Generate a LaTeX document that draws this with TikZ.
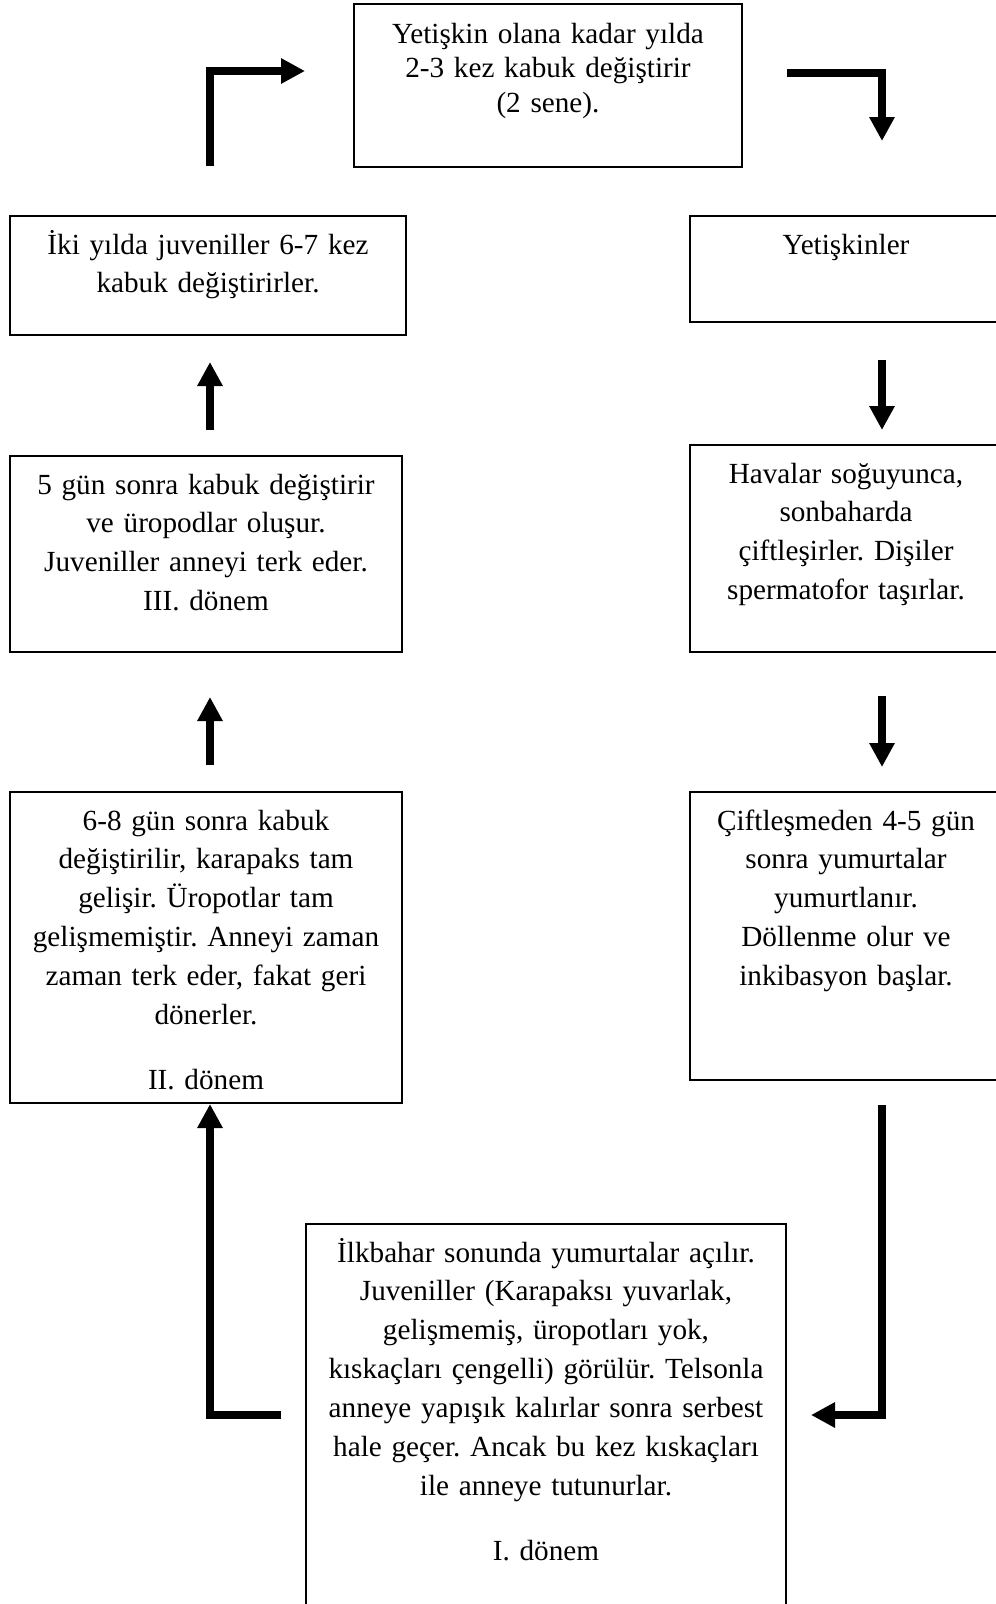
\documentclass[tikz,border=0pt]{standalone}
\usepackage{fontspec}
\setmainfont[WordSpace=0.75]{Liberation Serif}
\usetikzlibrary{arrows.meta}

\begin{document}
\begin{tikzpicture}[x=1pt,y=-1pt,
  box/.style={draw, line width=2pt, anchor=north west, align=center, inner sep=0pt,
    font=\fontsize{29.2pt}{38.9pt}\selectfont\frenchspacing, text height=38pt},
  arr/.style={line width=7.5pt, -{Triangle[length=24pt,width=24pt]}}]
  \useasboundingbox (0,0) rectangle (996,1604);
  \clip (0,0) rectangle (996,1604);

  \node[box, text width=388pt, text height=39pt, text depth=124pt,
    font=\fontsize{29.2pt}{34.5pt}\selectfont\frenchspacing] (moult) at (353,3)
    {Yetişkin olana kadar yılda\\ 2-3 kez kabuk değiştirir\\ (2 sene).}; % top
  \node[box, text width=312pt, text depth=68pt] (adult) at (689,215) {Yetişkinler};
  \node[box, text width=312pt, text depth=169pt] (mating) at (689,444)
    {Havalar soğuyunca,\\ sonbaharda\\ çiftleşirler. Dişiler\\ spermatofor taşırlar.};
  \node[box, text width=312pt, text depth=250pt] (eggs) at (689,791)
    {Çiftleşmeden 4-5 gün\\ sonra yumurtalar\\ yumurtlanır.\\ Döllenme olur ve\\ inkibasyon başlar.};
  \node[box, text width=480pt, text depth=362pt] (hatch) at (305,1223)
    {İlkbahar sonunda yumurtalar açılır.\\ Juveniller (Karapaksı yuvarlak,\\ gelişmemiş, üropotları yok,\\
     kıskaçları çengelli) görülür. Telsonla\\ anneye yapışık kalırlar sonra serbest\\
     hale geçer. Ancak bu kez kıskaçları\\ ile anneye tutunurlar.\\[26pt] I. dönem}; % bottom
  \node[box, text width=392pt, text depth=273pt] (stageII) at (9,791)
    {6-8 gün sonra kabuk\\ değiştirilir, karapaks tam\\ gelişir. Üropotlar tam\\
     gelişmemiştir. Anneyi zaman\\ zaman terk eder, fakat geri\\ dönerler.\\[26pt] II. dönem};
  \node[box, text width=392pt, text depth=158pt] (stageIII) at (9,455)
    {5 gün sonra kabuk değiştirir\\ ve üropodlar oluşur.\\ Juveniller anneyi terk eder.\\ III. dönem};
  \node[box, text width=396pt, text depth=81pt] (juv) at (9,215)
    {İki yılda juveniller 6-7 kez\\ kabuk değiştirirler.};

  \draw[arr, shorten <=49pt, shorten >=48pt] ([xshift=2pt]juv.north) |- ([yshift=14.5pt]moult.west); % up and right
  \draw[arr, shorten <=44pt, shorten >=74pt] ([yshift=12.5pt]moult.east) -| ([xshift=36pt]adult.north); % right and down
  \draw[arr, shorten <=37pt, shorten >=14pt] ([xshift=36pt]adult.south) -- ([xshift=36pt]mating.north);
  \draw[arr, shorten <=43pt, shorten >=24pt] ([xshift=36pt]mating.south) -- ([xshift=36pt]eggs.north);
  \draw[arr, shorten <=24pt, shorten >=24pt] ([xshift=36pt]eggs.south) |- ([yshift=-192pt]hatch.north east);
  \draw[arr, shorten <=24pt] ([yshift=-192pt]hatch.north west) -| ([xshift=4pt]stageII.south);
  \draw[arr, shorten <=26pt, shorten >=44pt] ([xshift=4pt]stageII.north) -- ([xshift=4pt]stageIII.south);
  \draw[arr, shorten <=25pt, shorten >=26pt] ([xshift=4pt]stageIII.north) -- ([xshift=2pt]juv.south);
\end{tikzpicture}
\end{document}
